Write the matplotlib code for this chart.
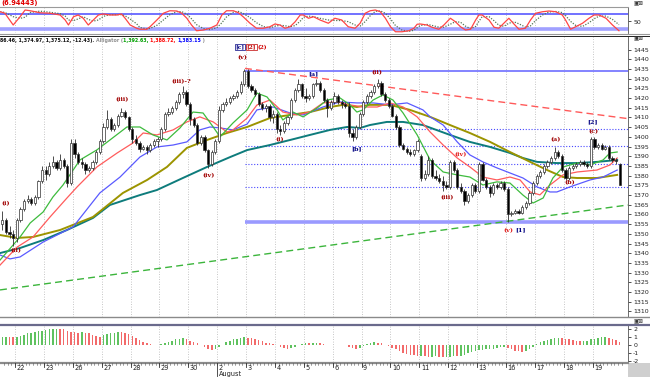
import numpy as np
import pandas as pd
import matplotlib
matplotlib.use('Agg')
import matplotlib.pyplot as plt
from matplotlib.patches import Rectangle
from matplotlib.lines import Line2D

# ---------------- data ----------------
day_labels = ["22", "23", "26", "27", "28", "29", "30", "2", "3", "4", "5", "6",
              "9", "10", "11", "12", "13", "16", "17", "18", "19"]

opens = [1355, 1357, 1351, 1350,
         1348, 1357, 1363, 1367, 1368, 1366, 1369, 1377,
         1383, 1381, 1385, 1387, 1384, 1388, 1385, 1376,
         1397, 1391, 1387, 1386, 1383, 1384, 1387, 1392,
         1398, 1405, 1409, 1404, 1406, 1411, 1413, 1410,
         1404, 1399, 1397, 1394, 1395, 1393, 1396, 1398,
         1399, 1404, 1412, 1413, 1415, 1418, 1422, 1423,
         1417, 1409, 1406, 1397, 1400, 1393, 1386, 1392,
         1398, 1414, 1417, 1418, 1420, 1421, 1423, 1427,
         1434, 1426, 1424, 1422, 1417, 1415, 1416, 1410,
         1412, 1404, 1403, 1407, 1410, 1419, 1424, 1427,
         1421, 1420, 1421, 1427, 1428, 1424, 1419, 1415,
         1418, 1421, 1418, 1417, 1416, 1402, 1400, 1405,
         1412, 1418, 1421, 1423, 1426, 1428, 1422, 1419,
         1416, 1411, 1405, 1396, 1394, 1392, 1391, 1393,
         1390, 1379, 1381, 1388, 1380, 1379, 1377, 1375,
         1374, 1387, 1383, 1374, 1372, 1367, 1370, 1375,
         1372, 1386, 1378, 1374, 1371, 1375, 1374, 1376,
         1373, 1360, 1361, 1362, 1361, 1364, 1366, 1371,
         1376, 1380, 1382, 1385, 1387, 1389, 1392, 1390,
         1383, 1379, 1384, 1385, 1386, 1387, 1386, 1385,
         1399, 1395, 1396, 1394, 1395, 1389, 1388, 1386]
closes = [1357, 1351, 1350, 1348,
          1357, 1363, 1367, 1368, 1366, 1369, 1377, 1383,
          1381, 1385, 1387, 1384, 1388, 1385, 1376, 1397,
          1391, 1387, 1386, 1383, 1384, 1387, 1392, 1398,
          1405, 1409, 1404, 1406, 1411, 1413, 1410, 1404,
          1399, 1397, 1394, 1395, 1393, 1396, 1398, 1399,
          1404, 1412, 1413, 1415, 1418, 1422, 1423, 1417,
          1409, 1406, 1397, 1400, 1393, 1386, 1392, 1398,
          1414, 1417, 1418, 1420, 1421, 1423, 1427, 1434,
          1426, 1424, 1422, 1417, 1415, 1416, 1410, 1412,
          1404, 1403, 1407, 1410, 1419, 1424, 1427, 1421,
          1420, 1421, 1427, 1428, 1424, 1419, 1415, 1418,
          1421, 1418, 1417, 1416, 1402, 1400, 1405, 1412,
          1418, 1421, 1423, 1426, 1428, 1422, 1419, 1416,
          1411, 1405, 1396, 1394, 1392, 1391, 1393, 1398,
          1379, 1381, 1388, 1380, 1379, 1377, 1375, 1374,
          1387, 1383, 1374, 1372, 1367, 1370, 1375, 1372,
          1386, 1378, 1374, 1371, 1375, 1374, 1376, 1373,
          1360, 1361, 1362, 1361, 1364, 1366, 1371, 1376,
          1380, 1382, 1385, 1387, 1389, 1392, 1390, 1383,
          1379, 1384, 1385, 1386, 1387, 1386, 1385, 1399,
          1395, 1396, 1394, 1395, 1389, 1388, 1387.55, 1375.12]
highs = [1362, 1358, 1354, 1352,
         1358, 1364, 1368, 1370, 1369, 1370, 1378, 1385,
         1385, 1387, 1390, 1388, 1391, 1389, 1386, 1399,
         1399, 1392, 1389, 1387, 1385, 1388, 1393, 1399,
         1407, 1414, 1410, 1407, 1412, 1415, 1414, 1411,
         1405, 1401, 1398, 1396, 1396, 1397, 1399, 1400,
         1405, 1413, 1415, 1416, 1419, 1423, 1426, 1424,
         1418, 1410, 1407, 1401, 1401, 1394, 1393, 1399,
         1416, 1418, 1420, 1421, 1422, 1424, 1429, 1435,
         1435, 1427, 1425, 1423, 1418, 1417, 1417, 1414,
         1413, 1406, 1408, 1411, 1420, 1425, 1430, 1428,
         1425, 1422, 1428, 1430, 1429, 1425, 1420, 1419,
         1423, 1422, 1419, 1418, 1418, 1404, 1406, 1413,
         1419, 1422, 1424, 1427, 1430, 1429, 1423, 1420,
         1417, 1412, 1406, 1397, 1395, 1394, 1394, 1399,
         1391, 1383, 1390, 1389, 1383, 1381, 1380, 1377,
         1388, 1388, 1384, 1376, 1373, 1371, 1376, 1376,
         1387, 1387, 1379, 1375, 1376, 1376, 1377, 1377,
         1374, 1362, 1363, 1363, 1365, 1367, 1372, 1377,
         1381, 1383, 1386, 1388, 1390, 1395, 1393, 1391,
         1384, 1385, 1386, 1387, 1388, 1388, 1387, 1400,
         1400, 1397, 1397, 1396, 1396, 1390, 1389, 1386.46]
lows = [1352, 1350, 1348, 1344,
        1346, 1356, 1362, 1366, 1365, 1365, 1368, 1376,
        1378, 1380, 1384, 1383, 1383, 1384, 1374, 1375,
        1389, 1386, 1384, 1381, 1382, 1383, 1386, 1391,
        1397, 1404, 1403, 1403, 1405, 1410, 1409, 1403,
        1397, 1396, 1392, 1393, 1391, 1392, 1395, 1395,
        1398, 1403, 1411, 1412, 1414, 1417, 1420, 1416,
        1406, 1405, 1396, 1396, 1392, 1384, 1385, 1391,
        1397, 1413, 1416, 1417, 1419, 1420, 1422, 1426,
        1425, 1423, 1421, 1416, 1414, 1413, 1408, 1407,
        1402, 1401, 1402, 1406, 1409, 1418, 1423, 1420,
        1418, 1419, 1420, 1426, 1423, 1418, 1410, 1414,
        1417, 1417, 1415, 1415, 1400, 1398, 1399, 1404,
        1411, 1417, 1420, 1422, 1425, 1421, 1418, 1415,
        1410, 1404, 1395, 1393, 1391, 1390, 1390, 1392,
        1377, 1378, 1380, 1379, 1378, 1376, 1372, 1373,
        1373, 1382, 1373, 1371, 1365, 1366, 1369, 1371,
        1371, 1377, 1373, 1369, 1370, 1373, 1373, 1372,
        1356, 1359, 1360, 1360, 1360, 1363, 1365, 1370,
        1375, 1379, 1381, 1384, 1386, 1388, 1389, 1382,
        1378, 1378, 1383, 1384, 1385, 1385, 1384, 1384,
        1394, 1394, 1393, 1393, 1388, 1387, 1386, 1374.97]

# moving averages: (bar position, value)
green_pos = [-0.65, 3.0, 4.9, 7.7, 11.3, 14.0, 16.8, 21.5, 26.2, 29.8, 34.5, 38.1, 41.7, 45.6,
             49.2, 52.8, 55.6, 58.4, 60.3, 63.9, 67.8, 70.5, 73.3, 76.1, 77.7, 80.5, 83.3, 87.2,
             89.9, 93.5, 96.3, 98.2, 99.9, 102.7, 105.4, 108.2, 111.0, 114.9, 118.5, 122.1,
             126.0, 129.5, 133.1, 137.0, 140.6, 144.2, 147.0, 149.8, 152.5, 155.3, 159.2,
             162.8, 166.4, 168.3, 170.3]
green_val = [1336.5, 1344.3, 1348.4, 1355.6, 1361.3, 1369.0, 1375.2, 1388.1, 1393.3, 1398.4,
             1405.1, 1405.1, 1401.0, 1398.4, 1404.6, 1412.8, 1412.3, 1405.1, 1400.0, 1407.2,
             1413.9, 1422.6, 1420.6, 1413.9, 1408.7, 1412.8, 1410.3, 1414.9, 1419.0, 1420.1,
             1416.5, 1412.8, 1413.9, 1419.0, 1421.6, 1419.0, 1412.3, 1401.0, 1388.1, 1381.9,
             1380.4, 1379.3, 1375.2, 1376.8, 1376.2, 1370.0, 1365.9, 1368.5, 1378.8, 1384.5,
             1386.5, 1385.5, 1388.1, 1391.7, 1392.2]
red_pos = [-0.65, 4.1, 8.5, 13.2, 17.9, 20.7, 26.2, 31.8, 36.2, 39.0, 42.8, 47.3, 51.1, 54.7,
           58.4, 62.2, 63.9, 67.8, 70.5, 74.1, 77.7, 81.6, 85.2, 88.8, 92.7, 96.3, 99.9, 103.8,
           107.4, 111.0, 114.9, 118.5, 122.1, 126.0, 129.5, 133.1, 137.0, 140.6, 143.4, 146.2,
           148.9, 151.7, 155.3, 159.2, 164.7, 168.3, 170.3]
red_val = [1333.9, 1343.2, 1348.4, 1358.7, 1368.5, 1374.2, 1384.5, 1391.7, 1396.9, 1402.0,
           1401.0, 1403.6, 1407.7, 1410.3, 1407.7, 1402.5, 1403.6, 1409.7, 1416.4, 1419.0,
           1412.8, 1411.3, 1412.8, 1417.5, 1418.0, 1416.5, 1415.4, 1415.4, 1417.5, 1415.4,
           1410.3, 1402.5, 1395.8, 1389.1, 1384.5, 1379.3, 1377.8, 1379.3, 1377.8, 1371.6,
           1370.1, 1375.2, 1380.4, 1381.9, 1382.9, 1385.5, 1389.1]
blue_pos = [-0.65, 2.1, 4.9, 11.3, 19.6, 27.0, 32.6, 38.1, 42.8, 47.3, 51.1, 54.7, 57.5, 60.3,
            63.9, 67.8, 70.5, 75.0, 79.7, 83.3, 88.8, 93.5, 98.2, 102.7, 107.4, 112.1, 116.5,
            118.5, 122.1, 126.0, 129.5, 133.1, 137.0, 140.6, 144.2, 148.1, 151.7, 153.6, 157.2,
            162.8, 166.4, 170.3]
blue_val = [1339.1, 1337.1, 1338.1, 1345.8, 1353.6, 1371.1, 1379.3, 1389.6, 1394.8, 1395.8,
            1397.4, 1403.6, 1405.1, 1404.6, 1403.6, 1406.6, 1413.9, 1415.4, 1412.3, 1411.3,
            1415.4, 1418.0, 1417.5, 1417.5, 1416.5, 1417.5, 1413.9, 1410.3, 1406.1, 1397.4,
            1390.7, 1387.1, 1384.0, 1381.4, 1378.8, 1374.2, 1371.6, 1371.6, 1374.2, 1377.8,
            1379.3, 1382.9]
olive_pos = [-0.65, 4.1, 8.5, 16.0, 25.1, 33.4, 40.1, 45.6, 51.1, 56.7, 62.2, 67.8, 74.1, 79.7,
             85.2, 90.8, 94.4, 98.2, 101.8, 107.4, 112.9, 118.5, 124.0, 129.5, 135.1, 140.6,
             146.2, 150.9, 155.3, 159.2, 164.7, 170.3]
olive_val = [1349.4, 1347.9, 1348.4, 1352.0, 1358.7, 1371.1, 1377.8, 1384.5, 1394.3, 1398.4,
             1402.0, 1405.1, 1409.7, 1411.3, 1412.8, 1415.4, 1416.5, 1415.4, 1416.5, 1416.5,
             1413.9, 1410.3, 1406.1, 1402.0, 1397.4, 1392.2, 1387.1, 1382.9, 1379.3, 1378.8,
             1378.8, 1380.4]
teal_pos = [-0.65, 4.9, 11.3, 17.9, 25.1, 29.8, 38.1, 42.8, 50.0, 56.7, 63.1, 67.8, 74.1, 79.7,
            85.2, 90.8, 95.5, 99.1, 101.8, 106.5, 111.0, 116.5, 124.0, 129.5, 135.1, 140.6,
            144.2, 148.1, 153.6, 159.2, 164.7, 170.3]
teal_val = [1340.1, 1342.7, 1346.8, 1352.0, 1358.2, 1364.9, 1370.0, 1372.6, 1378.8, 1384.5,
            1389.6, 1393.2, 1395.8, 1398.4, 1401.0, 1403.6, 1405.1, 1404.6, 1406.1, 1407.7,
            1407.7, 1406.1, 1401.0, 1397.4, 1394.8, 1391.7, 1389.1, 1387.1, 1386.5, 1386.5,
            1387.1, 1388.1]

# stochastic %K (bar position, value)
stoch_pos = [-0.6, 0.7, 3.0, 4.9, 6.3, 7.7, 10.4, 13.2, 16.0, 17.4, 18.3, 19.7, 21.0, 22.4, 23.8,
             25.2, 26.6, 28.0, 29.8, 31.7, 33.0, 34.0, 35.4, 37.2, 38.1, 40.0, 40.9, 42.8, 44.6,
             46.4, 48.3, 49.7, 51.1, 52.4, 53.8, 55.7, 57.5, 59.4, 60.8, 62.1, 64.0, 65.4, 66.7,
             68.6, 70.4, 72.3, 74.1, 75.5, 76.9, 78.3, 79.7, 81.1, 82.5, 83.4, 84.8, 86.2, 88.0,
             90.3, 92.1, 94.0, 95.8, 97.7, 99.1, 100.5, 101.9, 103.3, 104.7, 106.1, 107.5, 108.9,
             110.7, 112.6, 114.0, 114.9, 115.8, 117.6, 119.0, 120.9, 122.3, 124.1, 125.5, 126.9,
             128.3, 129.7, 131.1, 132.0, 132.9, 134.8, 136.2, 137.5, 138.9, 140.3, 141.7, 143.1,
             144.9, 146.3, 147.7, 149.6, 151.4, 153.3, 155.1, 156.0, 157.4, 158.8, 160.7, 162.5,
             163.9, 165.3, 167.2, 169.0, 170.8]
stoch_k = [89, 83, 36, 69, 96, 93, 85, 83, 76, 56, 36, 69, 76, 63, 36,
           56, 76, 80, 76, 76, 80, 63, 36, 23, 19, 19, 29, 56, 83,
           93, 92, 83, 63, 36, 13, 16, 23, 36, 76, 93, 93, 85, 69,
           43, 23, 23, 29, 40, 36, 23, 29, 49, 76, 76, 63, 69, 56,
           43, 63, 56, 29, 23, 43, 83, 93, 96, 89, 63, 29, 9,
           9, 13, 23, 39, 40, 36, 27, 19, 36, 63, 49, 29,
           16, 19, 56, 76, 76, 56, 27, 23, 43, 63, 40, 19,
           23, 56, 83, 89, 92, 89, 76, 56, 19, 29, 43, 63,
           76, 76, 63, 36, 13]

# histogram oscillator, one value per bar
osc = [1.05, 1.1, 1.05, 1.0,
       1.05, 1.2, 1.35, 1.5, 1.6, 1.7, 1.75, 1.8,
       1.9, 2.0, 2.1, 2.1, 2.05, 2.0, 1.8, 1.7,
       1.65, 1.6, 1.65, 1.6, 1.5, 1.3, 1.2, 1.1,
       1.3, 1.45, 1.55, 1.6, 1.7, 1.65, 1.55, 1.45,
       1.2, 0.95, 0.7, 0.45, 0.3, 0.15, 0.05, 0.05,
       0.15, 0.3, 0.45, 0.6, 0.75, 0.85, 0.9, 0.8,
       0.6, 0.45, 0.3, 0.1, -0.2, -0.4, -0.55, -0.45,
       -0.2, 0.1, 0.4, 0.6, 0.75, 0.85, 0.9, 1.0,
       0.95, 0.9, 0.8, 0.65, 0.5, 0.35, 0.25, 0.15,
       0.0, -0.15, -0.3, -0.4, -0.3, -0.15, 0.05, 0.2,
       0.3, 0.25, 0.3, 0.3, 0.25, 0.2, 0.1, 0.05,
       0.05, 0.05, 0.0, 0.05, -0.2, -0.35, -0.45, -0.3,
       -0.1, 0.15, 0.3, 0.4, 0.35, 0.3, 0.1, -0.1,
       -0.3, -0.5, -0.75, -1.0, -1.1, -1.15, -1.25, -1.3,
       -1.3, -1.35, -1.4, -1.4, -1.35, -1.45, -1.5, -1.45,
       -1.4, -1.3, -1.35, -1.3, -1.2, -1.0, -0.85, -0.75,
       -0.6, -0.55, -0.5, -0.45, -0.4, -0.35, -0.25, -0.2,
       -0.35, -0.5, -0.65, -0.75, -0.8, -0.7, -0.45, -0.15,
       0.2, 0.4, 0.55, 0.7, 0.8, 0.9, 0.95, 0.9,
       0.85, 0.8, 0.65, 0.55, 0.5, 0.5, 0.55, 0.75,
       0.85, 0.95, 1.0, 1.0, 0.9, 0.8, 0.65, 0.45]

# structural levels
swing_high = 1434.1
swing_low = 1356.3
fib_levels = [1404.2, 1395.2, 1386.2, 1374.4]
red_trend = [1435.3, 1409.4]
green_trend = [1321.1, 1364.9]

# wave labels: text, bar position, price, colour key
wave_labels = [("(i)", 1.0, 1365.4, "r"), ("(ii)", 3.8, 1341.2, "r"),
               ("(iii)", 33.1, 1419.0, "r"), ("(iii)-?", 49.5, 1428.3, "r"),
               ("(iv)", 57.2, 1379.9, "r"), ("(v)", 66.4, 1440.7, "r"),
               ("(i)", 76.9, 1398.4, "r"), ("[a]", 86.1, 1432.4, "b"),
               ("[b]", 98.2, 1393.8, "b"), ("(ii)", 103.8, 1432.9, "r"),
               ("(iii)", 123.2, 1368.5, "r"), ("(iv)", 126.8, 1390.7, "r2"),
               ("(v)", 140.1, 1351.5, "r2"), ("[1]", 143.4, 1352.0, "b"),
               ("(a)", 153.1, 1398.4, "r"), ("(b)", 157.2, 1376.2, "r"),
               ("(c)", 163.6, 1402.5, "r"), ("[2]", 163.6, 1407.7, "b")]

# ---------------- figure ----------------
W, H = 650, 377
fig = plt.figure(figsize=(6.5, 3.77), dpi=100)
XL = (-0.654, 173.3)
PW = 628
NARROW = ['Liberation Sans Narrow', 'DejaVu Sans']

def add_ax(top, bottom):
    return fig.add_axes([0, 1 - bottom / H, PW / W, (bottom - top) / H])

ax_s = add_ax(6.7, 33)
ax_m = add_ax(36, 316.7)
ax_o = add_ax(325, 362.3)

n_bars = len(closes)
idx = np.arange(n_bars)
bounds = [3.5 + 8 * k for k in range(len(day_labels))]

for ax in (ax_s, ax_m, ax_o):
    ax.set_xlim(*XL)
    ax.set_xticks([])
    ax.yaxis.tick_right()
    for name, sp in ax.spines.items():
        sp.set_visible(name == 'right')
    ax.spines['right'].set_color('#555555')
    ax.spines['right'].set_linewidth(0.6)
    ax.tick_params(axis='y', labelsize=4.5, length=2.5, width=0.6, pad=1.2,
                   colors='#333333', labelcolor='#222222')
    for b in bounds:
        ax.axvline(b, color='#b4b4b4', lw=0.6, ls=(0, (1, 2)), zorder=0)

# stochastic
ax_s.set_ylim(4, 109.2)
ax_s.axhline(80, color='#4a4aff', lw=1.1, zorder=1)
ax_s.axhline(20, color='#a0a0ff', lw=2.6, zorder=1)
stoch_d = pd.Series(stoch_k).rolling(3, min_periods=1).mean().values
ax_s.plot(stoch_pos, stoch_d, color='#557755', lw=0.9, ls=(0, (1, 1.2)), zorder=2)
ax_s.plot(stoch_pos, stoch_k, color='#ff4545', lw=0.9, zorder=3)
ax_s.set_yticks([50])
ax_s.set_yticklabels(['50'])

# main panel
ax_m.set_ylim(1307.3, 1452.0)
ax_m.set_yticks(np.arange(1310, 1446, 5))
ax_m.set_yticklabels([str(v) for v in range(1310, 1446, 5)])

x_start = 67.2
ax_m.hlines(swing_high, x_start, XL[1], color='#6e6eff', lw=1.2, zorder=2)
ax_m.hlines(swing_low, x_start, XL[1], color='#9a9aff', lw=2.6, zorder=2)
for lv in fib_levels:
    ax_m.hlines(lv, x_start, XL[1], color='#4848ff', lw=0.8, ls=(0, (1, 1.6)), zorder=2)
ax_m.plot([x_start, XL[1]], red_trend, color='#ff5a5a', lw=1.0, ls=(0, (5, 3)), zorder=2)
ax_m.plot([XL[0], XL[1]], green_trend, color='#3cb53c', lw=1.0, ls=(0, (5, 3)), zorder=2)

ax_m.plot(teal_pos, teal_val, color='#0e7c7c', lw=1.4, zorder=3)
ax_m.plot(olive_pos, olive_val, color='#9c9400', lw=1.4, zorder=3)
ax_m.plot(blue_pos, blue_val, color='#5a5aff', lw=0.9, zorder=3)
ax_m.plot(red_pos, red_val, color='#ff5c5c', lw=0.9, zorder=3)
ax_m.plot(green_pos, green_val, color='#3dbb3d', lw=0.9, zorder=3)

bw = 0.62
for i in range(n_bars):
    o, h, l, c = opens[i], highs[i], lows[i], closes[i]
    ax_m.vlines(i, l, h, color='#303030', lw=0.6, zorder=4)
    up = c >= o
    ax_m.add_patch(Rectangle((i - bw / 2, min(o, c)), bw, max(abs(c - o), 0.25),
                             facecolor='white' if up else 'black',
                             edgecolor='#303030', lw=0.5, zorder=5))

col_map = {"r": "#a00000", "r2": "#e02020", "b": "#000080"}
for txt, px, py, ck in wave_labels:
    ax_m.text(px, py, txt, color=col_map[ck], fontsize=4.6, fontweight='bold',
              ha='center', va='center', zorder=6, family='DejaVu Serif')

# top labels [c] [2] (2)
ax_m.text(65.9, 1446.3, "[c]", color='#000080', fontsize=4.2, fontweight='bold', ha='center',
          va='center', family='DejaVu Serif',
          bbox=dict(boxstyle='square,pad=0.05', fc='white', ec='#000080', lw=0.5))
ax_m.text(69.0, 1446.3, "[2]", color='#c00000', fontsize=4.2, fontweight='bold', ha='center',
          va='center', family='DejaVu Serif',
          bbox=dict(boxstyle='square,pad=0.05', fc='white', ec='#c00000', lw=0.5))
ax_m.text(71.9, 1446.3, "(2)", color='#d00000', fontsize=4.2, fontweight='bold', ha='center',
          va='center', family='DejaVu Serif')

# oscillator
ax_o.set_ylim(-2.125, 2.54)
ax_o.set_yticks([-2, -1, 0, 1, 2])
ax_o.set_yticklabels(['-2', '-1', '0', '1', '2'])
osc_cols = []
for i, v in enumerate(osc):
    prev = osc[i - 1] if i > 0 else v
    osc_cols.append('#5fc25f' if v >= prev else '#f26a6a')
ax_o.bar(idx, osc, width=0.42, color=osc_cols, zorder=2)

# separators and frame lines (pixel coordinates)
def hline_px(y, x0, x1, color, lw):
    fig.add_artist(Line2D([x0 / W, x1 / W], [1 - y / H, 1 - y / H], color=color, lw=lw,
                          transform=fig.transFigure))

hline_px(6.7, 0, 628, '#9a9a9a', 0.8)
hline_px(33.8, 0, 650, '#9a9a9a', 0.8)
hline_px(35.6, 0, 650, '#202020', 0.7)
hline_px(316.9, 0, 650, '#8a8a8a', 1.0)
hline_px(325, 0, 650, '#6a6a8c', 1.6)
hline_px(362.5, 0, 628, '#8a8a8a', 1.6)
fig.add_artist(Rectangle((628 / W, 0), 22 / W, 14.5 / H, transform=fig.transFigure,
                         facecolor='#cfcfcf', edgecolor='none'))

# panel icons at the right
for yy in (3.5, 38.5, 321.5):
    fig.text(633 / W, 1 - yy / H, "\u25a3\u22a0", fontsize=4, color='#333333',
             va='center', ha='left')

# date axis
scale = PW / (XL[1] - XL[0])
def xpx(v):
    return (v - XL[0]) * scale

for i in range(n_bars):
    xp = xpx(i + 0.5)
    fig.add_artist(Line2D([xp / W, xp / W], [1 - 363 / H, 1 - 364.5 / H], color='#555555',
                          lw=0.4, transform=fig.transFigure))
for b, lab in zip(bounds, day_labels):
    xp = xpx(b)
    y_end = 376 if lab == "2" else 366.5
    fig.add_artist(Line2D([xp / W, xp / W], [1 - 363 / H, 1 - y_end / H], color='#333333',
                          lw=0.6, transform=fig.transFigure))
    fig.text((xp + 1.5) / W, 1 - 368 / H, lab, fontsize=4.8, color='#222222', va='center',
             ha='left')
fig.text((xpx(bounds[7]) + 1.5) / W, 1 - 374 / H, "August", fontsize=4.8, color='#222222',
         va='center', ha='left')

# titles / headers
fig.text(1 / W, 1 - 2.5 / H, "(6.94443)", color='#e00000', fontsize=4.8, fontweight='bold',
         va='center', ha='left', family=NARROW)

fig.canvas.draw()
rend = fig.canvas.get_renderer()
pieces = [("86.46, 1,374.97, 1,375.12, -12.43). ", '#111111'), ("Alligator (", '#909090'),
          ("1,392.63, ", '#00a000'), ("1,388.72, ", '#ff0000'), ("1,383.15", '#0000ff'),
          (" )", '#909090')]
x = 0.0
for s, c in pieces:
    t = fig.text(x / W, 1 - 40.5 / H, s, color=c, fontsize=3.4, fontweight='bold',
                 va='center', ha='left', family=NARROW)
    bb = t.get_window_extent(renderer=rend)
    x += bb.width

fig.savefig('out.png', dpi=100)
